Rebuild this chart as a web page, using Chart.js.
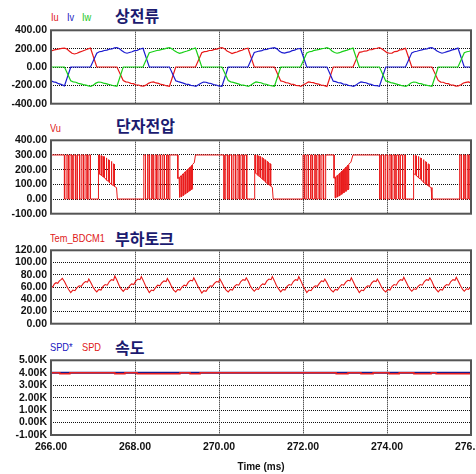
<!DOCTYPE html>
<html>
<head>
<meta charset="utf-8">
<script src="https://cdn.jsdelivr.net/npm/chart.js@4.4.1/dist/chart.umd.min.js"></script>
<style>
html, body { margin: 0; padding: 0; background: #fff; overflow: hidden; width: 476px; height: 474px; }
canvas { position: absolute; left: 0; }
.lbl { position: absolute; font-family: 'Liberation Sans', Arial, sans-serif; font-size: 10.5px; line-height: 1; white-space: nowrap; transform: scaleX(0.88); transform-origin: left top; }
.ttl { position: absolute; font-family: 'Noto Sans CJK KR', sans-serif; font-weight: bold; font-size: 16px; line-height: 1; color: #1b1b70; white-space: nowrap; }
</style>
</head>
<body>
<div class="lbl" style="left:51px;top:12px;color:#e01818">Iu</div>
<div class="lbl" style="left:67px;top:12px;color:#2020c0">Iv</div>
<div class="lbl" style="left:82px;top:12px;color:#20c820">Iw</div>
<div class="ttl" style="left:115px;top:7px">상전류</div>

<div class="lbl" style="left:50px;top:123px;color:#e01818">Vu</div>
<div class="ttl" style="left:116px;top:117px">단자전압</div>

<div class="lbl" style="left:50px;top:233px;color:#e01818">Tem_BDCM1</div>
<div class="ttl" style="left:115px;top:230px">부하토크</div>

<div class="lbl" style="left:50px;top:342px;color:#2020c0">SPD*</div>
<div class="lbl" style="left:82px;top:342px;color:#e01818">SPD</div>
<div class="ttl" style="left:115px;top:339px">속도</div>

<canvas id="c1" width="500" height="94" style="top:20px"></canvas>
<canvas id="c2" width="500" height="94" style="top:130px"></canvas>
<canvas id="c3" width="500" height="94" style="top:240px"></canvas>
<canvas id="c4" width="500" height="124" style="top:350px"></canvas>

<script>
// phase currents [time ms, A]
var iu = [
  [266.00,174],[266.08,186],[266.14,192],[266.20,198],[266.26,202],[266.32,206],[266.38,196],[266.44,172],[266.50,150],[266.56,142],[266.62,150],[266.68,162],[266.74,172],[266.80,182],[266.86,194],[266.94,206],[267.09,0],[267.57,0],
  [267.72,-148],[267.78,-162],[267.84,-166],[267.90,-178],[267.96,-182],[268.02,-194],[268.08,-196],[268.14,-206],[268.20,-208],[268.26,-198],[268.32,-178],[268.38,-166],[268.44,-162],[268.50,-174],[268.56,-178],[268.62,-190],[268.68,-194],[268.74,-204],[268.82,-210],[268.97,0],[269.44,0],
  [269.59,156],[269.65,168],[269.71,170],[269.77,180],[269.83,182],[269.89,192],[269.95,194],[270.01,206],[270.07,210],[270.13,200],[270.19,174],[270.25,160],[270.31,146],[270.37,156],[270.43,164],[270.49,176],[270.55,182],[270.61,196],[270.69,204],[270.84,0],[271.32,0],
  [271.47,-152],[271.53,-158],[271.59,-170],[271.65,-174],[271.71,-186],[271.77,-190],[271.83,-200],[271.89,-202],[271.95,-212],[272.01,-194],[272.07,-180],[272.13,-162],[272.19,-168],[272.25,-170],[272.31,-182],[272.37,-186],[272.43,-198],[272.49,-200],[272.57,-212],[272.72,0],[273.19,0],
  [273.34,160],[273.40,164],[273.46,174],[273.52,176],[273.58,188],[273.64,190],[273.70,200],[273.76,204],[273.82,212],[273.88,196],[273.94,178],[274.00,156],[274.06,150],[274.12,152],[274.18,168],[274.24,170],[274.30,186],[274.36,190],[274.44,204],[274.59,0],[275.07,0],
  [275.22,-146],[275.28,-164],[275.34,-166],[275.40,-180],[275.46,-182],[275.52,-196],[275.58,-198],[275.64,-208],[275.70,-206],[275.76,-194],[275.82,-174],[275.88,-168],[275.94,-162],[276.00,-174]
];
var iv = [
  [266.00,-150],[266.06,-162],[266.12,-168],[266.18,-182],[266.24,-190],[266.32,-206],[266.47,0],[266.94,0],
  [267.09,150],[267.15,166],[267.21,170],[267.27,180],[267.33,184],[267.39,194],[267.45,196],[267.51,208],[267.57,212],[267.63,198],[267.69,176],[267.75,158],[267.81,150],[267.87,158],[267.93,166],[267.99,178],[268.05,182],[268.11,194],[268.19,204],[268.34,0],[268.82,0],
  [268.97,-150],[269.03,-160],[269.09,-168],[269.15,-176],[269.21,-186],[269.27,-190],[269.33,-200],[269.39,-204],[269.45,-210],[269.51,-194],[269.57,-178],[269.63,-164],[269.69,-166],[269.75,-176],[269.81,-180],[269.87,-192],[269.93,-196],[269.99,-206],[270.07,-210],[270.22,0],[270.69,0],
  [270.84,158],[270.90,166],[270.96,174],[271.02,178],[271.08,190],[271.14,192],[271.20,202],[271.26,206],[271.32,210],[271.38,198],[271.44,172],[271.50,156],[271.56,152],[271.62,160],[271.68,164],[271.74,178],[271.80,184],[271.86,196],[271.94,202],[272.09,0],[272.57,0],
  [272.72,-154],[272.78,-160],[272.84,-172],[272.90,-174],[272.96,-186],[273.02,-188],[273.08,-200],[273.14,-204],[273.20,-210],[273.26,-198],[273.32,-176],[273.38,-162],[273.44,-168],[273.50,-172],[273.56,-184],[273.62,-190],[273.68,-200],[273.74,-202],[273.82,-210],[273.97,0],[274.44,0],
  [274.59,154],[274.65,166],[274.71,172],[274.77,180],[274.83,186],[274.89,194],[274.95,198],[275.01,208],[275.07,210],[275.13,196],[275.19,174],[275.25,160],[275.31,150],[275.37,158],[275.43,168],[275.49,176],[275.55,186],[275.61,192],[275.69,206],[275.84,0],[276.00,0]
];
var iw = [
  [266.00,0],[266.32,0],
  [266.47,-150],[266.53,-162],[266.59,-166],[266.65,-178],[266.71,-184],[266.77,-192],[266.83,-198],[266.89,-206],[266.95,-210],[267.01,-196],[267.07,-176],[267.13,-164],[267.19,-166],[267.25,-176],[267.31,-182],[267.37,-190],[267.43,-196],[267.49,-204],[267.57,-210],[267.72,0],[268.19,0],
  [268.34,156],[268.40,164],[268.46,172],[268.52,180],[268.58,184],[268.64,192],[268.70,198],[268.76,206],[268.82,210],[268.88,198],[268.94,176],[269.00,160],[269.06,148],[269.12,156],[269.18,166],[269.24,174],[269.30,184],[269.36,196],[269.44,206],[269.59,0],[270.07,0],
  [270.22,-148],[270.28,-162],[270.34,-168],[270.40,-176],[270.46,-184],[270.52,-194],[270.58,-198],[270.64,-204],[270.70,-212],[270.76,-196],[270.82,-178],[270.88,-162],[270.94,-168],[271.00,-172],[271.06,-184],[271.12,-188],[271.18,-198],[271.24,-204],[271.32,-210],[271.47,0],[271.94,0],
  [272.09,152],[272.15,166],[272.21,170],[272.27,182],[272.33,186],[272.39,192],[272.45,200],[272.51,204],[272.57,210],[272.63,200],[272.69,174],[272.75,158],[272.81,150],[272.87,156],[272.93,168],[272.99,176],[273.05,184],[273.11,194],[273.19,206],[273.34,0],[273.82,0],
  [273.97,-152],[274.03,-160],[274.09,-170],[274.15,-176],[274.21,-184],[274.27,-192],[274.33,-200],[274.39,-206],[274.45,-210],[274.51,-196],[274.57,-174],[274.63,-164],[274.69,-166],[274.75,-178],[274.81,-182],[274.87,-192],[274.93,-198],[274.99,-204],[275.07,-210],[275.22,0],[275.69,0],
  [275.84,156],[275.90,166],[275.96,172],[276.00,178]
];

// terminal voltage [time ms, V]
var vu = [
  [266.00,300],[266.32,300],
  [266.32,0],[266.36,0],[266.36,300],[266.41,300],[266.41,0],[266.45,0],[266.45,300],[266.50,300],[266.50,0],[266.54,0],[266.54,300],[266.59,300],[266.59,0],[266.63,0],[266.63,300],[266.68,300],[266.68,0],[266.72,0],[266.72,300],[266.77,300],[266.77,0],[266.81,0],[266.81,300],[266.86,300],[266.86,0],[266.90,0],[266.90,300],[266.94,300],[266.94,0],
  [267.13,0],
  [267.13,300],[267.15,300],[267.15,170],[267.19,164],[267.19,296],[267.21,294],[267.21,158],[267.25,150],[267.25,290],[267.27,288],[267.27,144],[267.31,136],[267.31,280],[267.33,276],[267.33,128],[267.37,120],[267.37,268],[267.39,264],[267.39,112],[267.43,104],[267.43,256],[267.45,250],[267.45,98],[267.49,92],[267.49,240],[267.51,236],[267.51,86],[267.56,78],[267.58,0],
  [268.21,0],
  [268.21,300],[268.25,300],[268.25,0],[268.30,0],[268.30,300],[268.34,300],[268.34,0],[268.39,0],[268.39,300],[268.43,300],[268.43,0],[268.48,0],[268.48,300],[268.52,300],[268.52,0],[268.57,0],[268.57,300],[268.61,300],[268.61,0],[268.66,0],[268.66,300],[268.70,300],[268.70,0],[268.75,0],[268.75,300],[268.79,300],[268.79,0],[268.83,0],[268.83,300],
  [269.02,300],
  [269.02,140],[269.05,146],[269.05,10],[269.07,12],[269.07,150],[269.10,158],[269.10,16],[269.12,18],[269.12,164],[269.15,172],[269.15,24],[269.17,28],[269.17,178],[269.20,186],[269.20,34],[269.22,38],[269.22,192],[269.25,200],[269.25,44],[269.27,48],[269.27,206],[269.30,214],[269.30,54],[269.32,58],[269.32,220],[269.35,228],[269.35,64],[269.37,70],[269.37,236],[269.41,246],[269.44,300],
  [270.12,300],
  [270.12,0],[270.16,0],[270.16,300],[270.21,300],[270.21,0],[270.25,0],[270.25,300],[270.30,300],[270.30,0],[270.34,0],[270.34,300],[270.39,300],[270.39,0],[270.43,0],[270.43,300],[270.48,300],[270.48,0],[270.52,0],[270.52,300],[270.57,300],[270.57,0],[270.61,0],[270.61,300],[270.66,300],[270.66,0],
  [270.85,0],
  [270.85,300],[270.87,300],[270.87,176],[270.91,168],[270.91,298],[270.93,295],[270.93,160],[270.97,152],[270.97,292],[270.99,288],[270.99,146],[271.03,138],[271.03,282],[271.05,278],[271.05,130],[271.09,122],[271.09,270],[271.11,266],[271.11,114],[271.15,106],[271.15,258],[271.17,252],[271.17,100],[271.21,94],[271.21,244],[271.23,238],[271.23,88],[271.27,80],[271.29,0],
  [272.00,0],
  [272.00,300],[272.04,300],[272.04,0],[272.09,0],[272.09,300],[272.13,300],[272.13,0],[272.18,0],[272.18,300],[272.22,300],[272.22,0],[272.27,0],[272.27,300],[272.31,300],[272.31,0],[272.36,0],[272.36,300],[272.40,300],[272.40,0],[272.45,0],[272.45,300],[272.49,300],[272.49,0],[272.54,0],[272.54,300],
  [272.74,300],
  [272.74,142],[272.77,148],[272.77,8],[272.79,10],[272.79,154],[272.82,160],[272.82,14],[272.84,18],[272.84,166],[272.87,174],[272.87,22],[272.89,26],[272.89,180],[272.92,188],[272.92,32],[272.94,36],[272.94,194],[272.97,202],[272.97,42],[272.99,46],[272.99,208],[273.02,216],[273.02,52],[273.04,56],[273.04,222],[273.07,230],[273.07,62],[273.09,68],[273.09,238],[273.14,250],[273.19,300],
  [273.83,300],
  [273.83,0],[273.87,0],[273.87,300],[273.92,300],[273.92,0],[273.96,0],[273.96,300],[274.01,300],[274.01,0],[274.05,0],[274.05,300],[274.10,300],[274.10,0],[274.14,0],[274.14,300],[274.19,300],[274.19,0],[274.23,0],[274.23,300],[274.28,300],[274.28,0],[274.32,0],[274.32,300],[274.37,300],[274.37,0],[274.41,0],[274.41,300],[274.44,300],[274.44,0],
  [274.62,0],
  [274.62,300],[274.64,300],[274.64,172],[274.68,166],[274.68,298],[274.70,294],[274.70,158],[274.74,150],[274.74,290],[274.76,286],[274.76,144],[274.80,136],[274.80,280],[274.82,276],[274.82,128],[274.86,120],[274.86,268],[274.88,264],[274.88,112],[274.92,104],[274.92,256],[274.94,250],[274.94,98],[274.98,92],[274.98,240],[275.00,236],[275.00,86],[275.05,78],[275.07,0],
  [275.73,0],
  [275.73,300],[275.77,300],[275.77,0],[275.82,0],[275.82,300],[275.86,300],[275.86,0],[275.91,0],[275.91,300],[275.95,300],[275.95,0],[276.00,0]
];

// load torque [time ms, N.m]
var tem = [
  [266.00,61],[266.04,60],[266.08,65],[266.12,67],[266.16,66],[266.20,70],[266.24,72],[266.27,74],[266.32,69],[266.37,62],[266.42,56],
  [266.47,51],[266.52,55],[266.57,54],[266.62,59],[266.67,62],[266.72,61],[266.77,66],[266.82,69],[266.87,68],[266.90,73],[266.95,67],[267.00,60],[267.05,55],
  [267.09,52],[267.14,56],[267.19,55],[267.24,61],[267.29,64],[267.34,63],[267.39,69],[267.44,72],[267.49,71],[267.52,78],[267.57,71],[267.62,63],[267.67,57],
  [267.72,53],[267.77,57],[267.82,56],[267.87,62],[267.92,65],[267.97,64],[268.02,70],[268.07,73],[268.12,72],[268.15,77],[268.20,70],[268.25,62],[268.30,56],
  [268.34,51],[268.39,55],[268.44,54],[268.49,59],[268.54,63],[268.59,62],[268.64,67],[268.69,70],[268.74,69],[268.77,74],[268.82,68],[268.87,61],[268.92,55],
  [268.97,52],[269.02,56],[269.07,55],[269.12,60],[269.17,63],[269.22,62],[269.27,68],[269.32,71],[269.37,70],[269.40,75],[269.45,68],[269.50,61],[269.55,55],
  [269.59,50],[269.64,54],[269.69,53],[269.74,58],[269.79,62],[269.84,61],[269.89,66],[269.94,69],[269.99,68],[270.02,73],[270.07,67],[270.12,60],[270.17,55],
  [270.22,52],[270.27,56],[270.32,55],[270.37,61],[270.42,64],[270.47,63],[270.52,69],[270.57,72],[270.62,71],[270.65,75],[270.70,69],[270.75,61],[270.80,56],
  [270.84,53],[270.89,57],[270.94,56],[270.99,62],[271.04,65],[271.09,64],[271.14,70],[271.19,73],[271.24,72],[271.27,77],[271.32,70],[271.37,62],[271.42,57],
  [271.47,52],[271.52,56],[271.57,55],[271.62,61],[271.67,64],[271.72,63],[271.77,69],[271.82,72],[271.87,71],[271.90,77],[271.95,70],[272.00,62],[272.05,56],
  [272.09,51],[272.14,55],[272.19,54],[272.24,59],[272.29,62],[272.34,61],[272.39,66],[272.44,70],[272.49,69],[272.52,73],[272.57,67],[272.62,60],[272.67,55],
  [272.72,52],[272.77,56],[272.82,55],[272.87,60],[272.92,64],[272.97,63],[273.02,68],[273.07,71],[273.12,70],[273.15,75],[273.20,68],[273.25,61],[273.30,56],
  [273.34,51],[273.39,55],[273.44,54],[273.49,59],[273.54,62],[273.59,61],[273.64,67],[273.69,70],[273.74,69],[273.77,73],[273.82,67],[273.87,60],[273.92,55],
  [273.97,52],[274.02,56],[274.07,55],[274.12,61],[274.17,64],[274.22,63],[274.27,69],[274.32,72],[274.37,71],[274.40,76],[274.45,69],[274.50,62],[274.55,56],
  [274.59,53],[274.64,57],[274.69,56],[274.74,61],[274.79,64],[274.84,63],[274.89,69],[274.94,72],[274.99,71],[275.02,75],[275.07,69],[275.12,61],[275.17,56],
  [275.22,52],[275.27,56],[275.32,55],[275.37,61],[275.42,64],[275.47,63],[275.52,69],[275.57,72],[275.62,71],[275.65,76],[275.70,69],[275.75,62],[275.80,56],
  [275.84,53],[275.89,57],[275.94,56],[276.00,61]
];

// speed command and measured speed [time ms, rpm]
var spdRef = [[266.00,4000],[276.00,4000]];
var spd = [
  [266.00,4000],[266.21,4000],[266.21,3910],[266.45,3910],[266.45,4000],[267.52,4000],[267.52,3910],[267.76,3910],[267.76,4000],
  [268.05,4000],[268.05,3910],[269.07,3910],[269.07,4000],[269.31,4000],[269.31,3910],[269.55,3910],[269.55,4000],
  [272.79,4000],[272.79,3910],[273.07,3910],[273.07,4000],[273.38,4000],[273.38,3910],[273.67,3910],[273.67,4000],
  [274.05,4000],[274.05,3910],[274.29,3910],[274.29,4000],[274.64,4000],[274.64,3910],[275.05,3910],[275.05,4000],
  [275.17,4000],[275.17,3910],[276.00,3910]
];

var tickFont = { family: 'Liberation Sans', size: 10.5, weight: 'bold' };

function pts(arr) {
    return arr.map(function (p) { return { x: p[0], y: p[1] }; });
}

function line(arr, color, width, order) {
    return {
        data: pts(arr),
        borderColor: color,
        borderWidth: width,
        pointRadius: 0,
        tension: 0,
        fill: false,
        order: order
    };
}

var framePlugin = {
    id: 'frame',
    afterDraw: function (chart) {
        var a = chart.chartArea;
        var ctx = chart.ctx;
        ctx.save();
        ctx.strokeStyle = '#555';
        ctx.lineWidth = 2;
        ctx.strokeRect(a.left, a.top, a.right - a.left, a.bottom - a.top);
        ctx.restore();
    }
};

function drawPanel(id, datasets, yMin, yMax, yStep, fmt, showX) {
    var ctx = document.getElementById(id).getContext("2d");
    return new Chart(ctx, {
        type: 'line',
        data: { datasets: datasets },
        options: {
            responsive: false,
            animation: false,
            events: [],
            layout: { padding: { left: 0, right: 29, top: 8, bottom: showX ? 0 : 8 } },
            plugins: { legend: { display: false }, tooltip: { enabled: false } },
            scales: {
                x: {
                    type: 'linear',
                    min: 266,
                    max: 276,
                    ticks: {
                        stepSize: 2,
                        display: showX,
                        autoSkip: false,
                        padding: 6,
                        color: '#111',
                        font: tickFont,
                        maxRotation: 0,
                        callback: function (v) { return v.toFixed(2); }
                    },
                    grid: { color: '#111', lineWidth: 1, drawTicks: false },
                    border: { display: false, dash: [1, 1] },
                    title: {
                        display: showX,
                        text: 'Time (ms)',
                        color: '#111',
                        font: { family: 'Liberation Sans', size: 10, weight: 'bold' },
                        padding: { top: 0, bottom: 1 }
                    },
                    afterFit: function (s) { s.height = showX ? 39 : 0; }
                },
                y: {
                    type: 'linear',
                    min: yMin,
                    max: yMax,
                    ticks: {
                        stepSize: yStep,
                        autoSkip: false,
                        padding: 4,
                        color: '#111',
                        font: tickFont,
                        callback: fmt
                    },
                    grid: { color: '#111', lineWidth: 1, drawTicks: false },
                    border: { display: false, dash: [1, 1] },
                    afterFit: function (s) { s.width = 51; }
                }
            }
        },
        plugins: [framePlugin]
    });
}

function fixed2(v) { return v.toFixed(2); }
function kilo(v) { return (v / 1000).toFixed(2) + 'K'; }

drawPanel("c1", [
    line(iu, '#e81818', 1.2, 3),
    line(iv, '#1c1cd0', 1.2, 2),
    line(iw, '#18d018', 1.2, 1)
], -400, 400, 200, fixed2, false);

drawPanel("c2", [line(vu, '#ea1c1c', 1, 1)], -100, 400, 100, fixed2, false);

drawPanel("c3", [line(tem, '#e81818', 1.1, 1)], 0, 120, 20, fixed2, false);

drawPanel("c4", [
    line(spd, '#e82020', 1.5, 1),
    line(spdRef, '#1a1a8c', 2.2, 2)
], -1000, 5000, 1000, kilo, true);
</script>
</body>
</html>
